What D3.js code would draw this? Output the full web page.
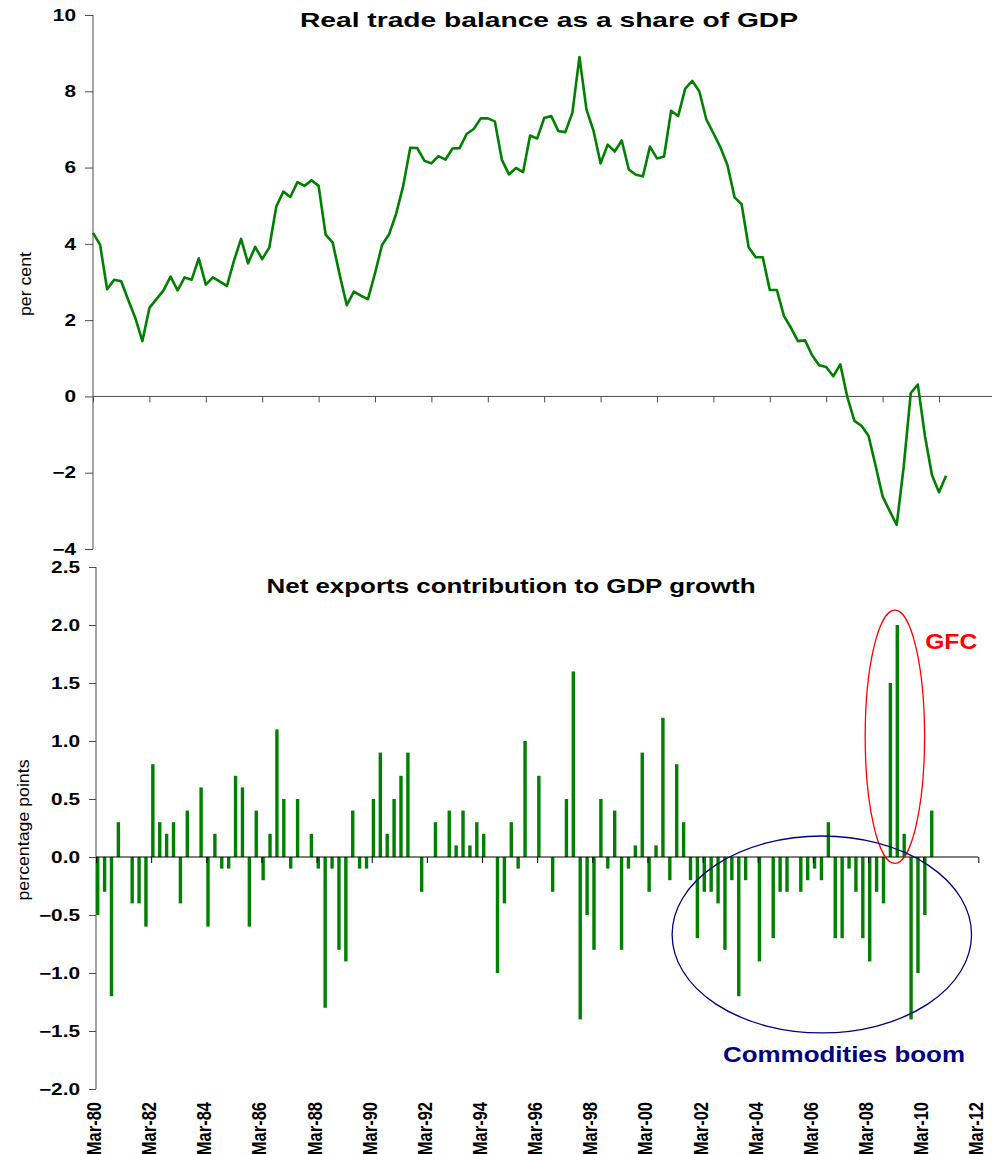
<!DOCTYPE html>
<html><head><meta charset="utf-8">
<script src="https://cdn.jsdelivr.net/npm/d3@7"></script>
<style>
body{margin:0;background:#fff}
svg{display:block}
text{font-family:Arial,"Liberation Sans",sans-serif}
</style>
</head><body>
<svg id="c" width="992" height="1154"></svg>
<script>
// ---- data ----
const xTickLabels = ["Mar-80","Mar-82","Mar-84","Mar-86","Mar-88","Mar-90","Mar-92","Mar-94","Mar-96","Mar-98","Mar-00","Mar-02","Mar-04","Mar-06","Mar-08","Mar-10","Mar-12"];
// quarterly, Mar-80 .. Jun-10
const tradeBalance = [4.29,3.98,2.81,3.06,3.02,2.53,2.06,1.45,2.32,2.55,2.78,3.14,2.78,3.12,3.06,3.62,2.93,3.12,3.01,2.90,
3.56,4.13,3.49,3.92,3.60,3.90,4.98,5.37,5.23,5.62,5.52,5.67,5.52,4.24,4.03,3.18,2.39,2.75,2.64,2.55,
3.23,3.97,4.25,4.79,5.52,6.52,6.51,6.18,6.11,6.30,6.21,6.50,6.51,6.88,7.01,7.29,7.29,7.21,6.20,5.82,
5.99,5.88,6.84,6.76,7.30,7.35,6.96,6.93,7.44,8.90,7.52,6.96,6.11,6.60,6.42,6.71,5.95,5.81,5.77,6.55,
6.24,6.29,7.49,7.35,8.07,8.27,8.00,7.26,6.90,6.53,6.06,5.22,5.04,3.91,3.65,3.65,2.79,2.79,2.11,1.80,
1.45,1.47,1.08,0.82,0.77,0.53,0.84,-0.02,-0.64,-0.77,-1.03,-1.81,-2.62,-3.00,-3.37,-1.83,0.09,0.31,-1.03,-2.06,
-2.51,-2.08];
const netExports = [-0.5,-0.3,-1.2,0.3,0,-0.4,-0.4,-0.6,0.8,0.3,0.2,0.3,-0.4,0.4,0,0.6,-0.6,0.2,-0.1,-0.1,
0.7,0.6,-0.6,0.4,-0.2,0.2,1.1,0.5,-0.1,0.5,0,0.2,-0.1,-1.3,-0.1,-0.8,-0.9,0.4,-0.1,-0.1,
0.5,0.9,0.2,0.5,0.7,0.9,0,-0.3,0,0.3,0,0.4,0.1,0.4,0.1,0.3,0.2,0,-1.0,-0.4,
0.3,-0.1,1.0,0,0.7,0,-0.3,0,0.5,1.6,-1.4,-0.5,-0.8,0.5,-0.1,0.4,-0.8,-0.1,0.1,0.9,
-0.3,0.1,1.2,-0.2,0.8,0.3,-0.2,-0.7,-0.3,-0.3,-0.4,-0.8,-0.2,-1.2,-0.2,0,-0.9,0,-0.7,-0.3,
-0.3,0,-0.3,-0.2,-0.1,-0.2,0.3,-0.7,-0.7,-0.1,-0.3,-0.7,-0.9,-0.3,-0.4,1.5,2.0,0.2,-1.4,-1.0,
-0.5,0.4];
const topYTicks = [10,8,6,4,2,0,-2,-4];
const bottomYTicks = [2.5,2.0,1.5,1.0,0.5,0.0,-0.5,-1.0,-1.5,-2.0];
const titles = ["Real trade balance as a share of GDP","Net exports contribution to GDP growth"];
const yTitles = ["per cent","percentage points"];
const notes = [
  {text:"GFC", color:"#ff0000", q:120.3, v:1.79, len:52,
   ell:{q:115.9, v:1.037, rq:4.31, rv:1.092}},
  {text:"Commodities boom", color:"#000080", q:90.96, v:-1.767, len:242,
   ell:{q:105.3, v:-0.668, rq:21.72, rv:0.849}}
];

// ---- layout ----
const svg = d3.select("#c");
const green = "#008000";
const axisCol = "#4d4d4d";
const SX = 1.3; // horizontal stretch of source picture

const xTop = d3.scaleLinear().domain([0,128]).range([93, 995.4]);
const yTop = d3.scaleLinear().domain([-4,10]).range([549, 15]);
const xBot = d3.scaleLinear().domain([0,128]).range([96, 978.3]);
const yBot = d3.scaleLinear().domain([-2,2.5]).range([1089, 567]);

function yLabels(scale, ticks, xr, fmt){
  svg.append("g").selectAll("text").data(ticks).join("text")
    .attr("transform", d => `translate(${xr},${scale(d)}) scale(${SX},1)`)
    .attr("dy","0.36em").attr("text-anchor","end")
    .attr("font-size",16).attr("font-weight","bold").attr("fill","#000")
    .text(fmt);
}

// ===== TOP CHART =====
const gT = svg.append("g");
gT.append("g").attr("transform",`translate(${xTop(0)},0)`)
  .call(d3.axisLeft(yTop).tickValues(topYTicks).tickSize(8).tickFormat(""))
  .call(g=>{g.select(".domain").attr("stroke",axisCol).attr("d",`M0,${yTop(10)}V${yTop(-4)}`);g.selectAll(".tick line").attr("stroke",axisCol);});
yLabels(yTop, topYTicks, 76, d=>d3.format("d")(d));
gT.append("g").attr("transform",`translate(0,${yTop(0)})`)
  .call(d3.axisBottom(xTop).tickValues(d3.range(0,17).map(i=>i*8)).tickSize(6).tickFormat(""))
  .call(g=>{g.select(".domain").attr("stroke",axisCol).attr("d",`M${xTop(0)},0H992`);g.selectAll(".tick line").attr("stroke",axisCol);});
gT.append("path").datum(tradeBalance)
  .attr("fill","none").attr("stroke",green).attr("stroke-width",2.6).attr("stroke-linejoin","round")
  .attr("d", d3.line().x((d,i)=>xTop(i)).y(d=>yTop(d)));
gT.append("text").attr("x",549).attr("y",27).attr("text-anchor","middle")
  .attr("font-size",21).attr("font-weight","bold")
  .attr("textLength",498).attr("lengthAdjust","spacingAndGlyphs").text(titles[0]);
gT.append("text").attr("transform",`translate(31,284) rotate(-90)`).attr("text-anchor","middle")
  .attr("font-size",17).attr("textLength",64).attr("lengthAdjust","spacingAndGlyphs").text(yTitles[0]);

// ===== BOTTOM CHART =====
const gB = svg.append("g");
gB.append("g").attr("transform",`translate(${xBot(0)},0)`)
  .call(d3.axisLeft(yBot).tickValues(bottomYTicks).tickSize(7).tickFormat(""))
  .call(g=>{g.select(".domain").attr("stroke",axisCol).attr("d",`M0,${yBot(2.5)}V${yBot(-2)}`);g.selectAll(".tick line").attr("stroke",axisCol);});
yLabels(yBot, bottomYTicks, 80, d=>d3.format(".1f")(d));
gB.append("g").selectAll("rect").data(netExports).join("rect")
  .attr("x",(d,i)=>xBot(i)).attr("width",3.4)
  .attr("y",d=>yBot(Math.max(0,d))).attr("height",d=>Math.abs(yBot(d)-yBot(0)))
  .attr("fill",green);
gB.append("g").attr("transform",`translate(0,${yBot(0)})`)
  .call(d3.axisBottom(xBot).tickValues(d3.range(0,17).map(i=>i*8)).tickSize(6).tickFormat(""))
  .call(g=>{g.select(".domain").attr("stroke","#000").attr("d",`M${xBot(0)},0H${xBot(128)}`);g.selectAll(".tick line").attr("stroke","#000");});
gB.append("g").selectAll("text").data(xTickLabels).join("text")
  .attr("transform",(d,i)=>`translate(${xBot(i*8)-2.5},1102) scale(1.25,1) rotate(-90)`)
  .attr("text-anchor","end").attr("dy","0.36em")
  .attr("font-size",16.5).attr("font-weight","bold").text(d=>d);
gB.append("text").attr("x",511).attr("y",593).attr("text-anchor","middle")
  .attr("font-size",21).attr("font-weight","bold")
  .attr("textLength",489).attr("lengthAdjust","spacingAndGlyphs").text(titles[1]);
gB.append("text").attr("transform",`translate(29,830) rotate(-90)`).attr("text-anchor","middle")
  .attr("font-size",17).attr("textLength",141).attr("lengthAdjust","spacingAndGlyphs").text(yTitles[1]);
notes.forEach(n=>{
  gB.append("ellipse")
    .attr("cx",xBot(n.ell.q)).attr("cy",yBot(n.ell.v))
    .attr("rx",xBot(n.ell.rq)-xBot(0)).attr("ry",yBot(0)-yBot(n.ell.rv))
    .attr("fill","none").attr("stroke",n.color).attr("stroke-width",1.3);
  gB.append("text").attr("x",xBot(n.q)).attr("y",yBot(n.v))
    .attr("font-size",22).attr("font-weight","bold").attr("fill",n.color)
    .attr("textLength",n.len).attr("lengthAdjust","spacingAndGlyphs").text(n.text);
});
</script>
</body></html>
